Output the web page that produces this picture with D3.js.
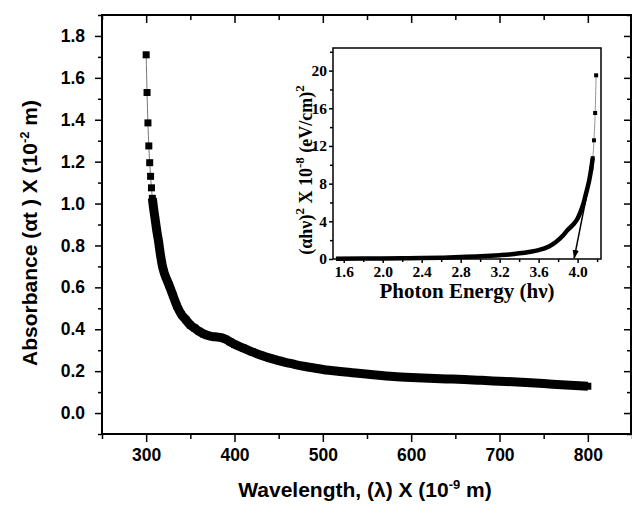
<!DOCTYPE html>
<html>
<head>
<meta charset="utf-8">
<script src="https://cdn.jsdelivr.net/npm/d3@7"></script>
<style>
body { margin: 0; background: #fff; }
svg { display: block; }
.main .tick text { font-family: "Liberation Sans", Arial, sans-serif; font-weight: bold; font-size: 17.5px; }
.inset .tick text { font-family: "Liberation Serif", "Times New Roman", serif; font-weight: bold; font-size: 15.5px; }
.tick line { stroke: #000; stroke-width: 1.5; }
</style>
</head>
<body>
<svg id="chart" width="632" height="505"></svg>
<script>
// Absorbance spectrum (main plot)
const wavelength = [300, 301, 302, 303, 304, 305, 306, 307, 308, 310, 312, 314, 316, 318, 320, 323, 326,
  330, 335, 340, 345, 350, 355, 360, 365, 370, 375, 380, 385, 390, 395, 400, 410, 420, 430, 440, 450,
  460, 470, 480, 490, 500, 520, 540, 560, 580, 600, 620, 640, 660, 680, 700, 720, 740, 760, 780, 800];
const absorbance = [1.71, 1.53, 1.385, 1.275, 1.195, 1.13, 1.075, 1.025, 0.99, 0.93, 0.87, 0.82, 0.76, 0.71, 0.675, 0.64, 0.61,
  0.565, 0.51, 0.47, 0.445, 0.42, 0.405, 0.39, 0.378, 0.37, 0.365, 0.363, 0.36, 0.352, 0.34, 0.328, 0.31, 0.292, 0.276, 0.262, 0.25,
  0.24, 0.23, 0.222, 0.215, 0.208, 0.198, 0.19, 0.182, 0.175, 0.17, 0.166, 0.163, 0.16, 0.156, 0.152, 0.148, 0.143, 0.138, 0.133, 0.128];
const xTicks = [300, 400, 500, 600, 700, 800];
const xMinor = [250, 350, 450, 550, 650, 750, 850];
const yTicks = [0, 0.2, 0.4, 0.6, 0.8, 1.0, 1.2, 1.4, 1.6, 1.8];
const yMinor = [-0.1, 0.1, 0.3, 0.5, 0.7, 0.9, 1.1, 1.3, 1.5, 1.7, 1.9];

// Tauc plot (inset)
const photonEnergy = [1.52, 1.8, 2.0, 2.2, 2.4, 2.6, 2.8, 3.0, 3.2, 3.3, 3.4, 3.5, 3.6, 3.7, 3.75, 3.8, 3.85,
  3.9, 3.95, 4.0, 4.03, 4.06, 4.08, 4.1, 4.12, 4.14, 4.155, 4.168, 4.18, 4.19];
const alphaHv2 = [0.02, 0.04, 0.06, 0.08, 0.1, 0.14, 0.2, 0.28, 0.4, 0.48, 0.6, 0.75, 0.95, 1.3, 1.6, 2.0, 2.5,
  3.1, 3.6, 4.3, 5.0, 5.9, 6.7, 7.5, 8.4, 9.6, 10.7, 12.6, 15.5, 19.5];
const insetXTicks = [1.6, 2.0, 2.4, 2.8, 3.2, 3.6, 4.0];
const insetXMinor = [1.8, 2.2, 2.6, 3.0, 3.4, 3.8, 4.2];
const insetYTicks = [0, 4, 8, 12, 16, 20];
const insetYMinor = [2, 6, 10, 14, 18, 22];
const tangentE = [4.155, 3.965];
const tangentV = [10, 0.1];

const svg = d3.select('#chart');

// ---------- main plot ----------
const x = d3.scaleLinear().domain([250, 850]).range([102, 632]);
const y = d3.scaleLinear().domain([-0.1, 1.9]).range([434, 15]);
const main = svg.append('g').attr('class', 'main');

function addAxis(g, axis, tx, ty) {
  const a = g.append('g').attr('transform', `translate(${tx},${ty})`).call(axis);
  a.select('.domain').remove();
  return a;
}

// bottom (outward) and top (inward)
addAxis(main, d3.axisBottom(x).tickValues(xTicks).tickSize(8).tickPadding(7).tickFormat(d3.format('d')), 0, 434);
addAxis(main, d3.axisBottom(x).tickValues(xMinor).tickSize(5).tickFormat(''), 0, 434);
addAxis(main, d3.axisBottom(x).tickValues(xTicks).tickSize(8).tickFormat(''), 0, 15);
addAxis(main, d3.axisBottom(x).tickValues(xMinor).tickSize(5).tickFormat(''), 0, 15);
// left (outward) and right (inward)
addAxis(main, d3.axisLeft(y).tickValues(yTicks).tickSize(7).tickPadding(10).tickFormat(d3.format('.1f')), 102, 0);
addAxis(main, d3.axisLeft(y).tickValues(yMinor).tickSize(4).tickFormat(''), 102, 0);
addAxis(main, d3.axisLeft(y).tickValues(yTicks).tickSize(7).tickFormat(''), 631, 0);
addAxis(main, d3.axisLeft(y).tickValues(yMinor).tickSize(4).tickFormat(''), 631, 0);

main.append('rect')
  .attr('x', 102).attr('y', 15).attr('width', 529).attr('height', 419)
  .attr('fill', 'none').attr('stroke', '#000').attr('stroke-width', 2);

const pts = wavelength.map((w, i) => [w, absorbance[i]]);
const line = d3.line().x(d => x(d[0])).y(d => y(d[1])).curve(d3.curveMonotoneX);

main.append('path').datum(pts).attr('d', line)
  .attr('fill', 'none').attr('stroke', '#777').attr('stroke-width', 1);
// dense part of the spectrum shows as a solid band of markers
main.append('path').datum(pts.slice(7)).attr('d', line)
  .attr('fill', 'none').attr('stroke', '#000').attr('stroke-width', 9).attr('stroke-linejoin', 'round');
main.selectAll('.mk').data(pts).enter().append('rect')
  .attr('class', 'mk')
  .attr('x', d => x(d[0]) - 3.5).attr('y', d => y(d[1]) - 3.5)
  .attr('width', 7).attr('height', 7).attr('fill', '#000');

main.append('text')
  .attr('x', 365).attr('y', 497)
  .attr('text-anchor', 'middle')
  .style('font-family', '"Liberation Sans", Arial, sans-serif').style('font-weight', 'bold').style('font-size', '21px')
  .call(t => {
    t.append('tspan').text('Wavelength, (λ) X (10');
    t.append('tspan').attr('dy', -8).style('font-size', '13px').text('-9');
    t.append('tspan').attr('dy', 8).text(' m)');
  });

main.append('text')
  .attr('transform', 'translate(37,233) rotate(-90)')
  .attr('text-anchor', 'middle')
  .style('font-family', '"Liberation Sans", Arial, sans-serif').style('font-weight', 'bold').style('font-size', '21px')
  .call(t => {
    t.append('tspan').text('Absorbance  (αt ) X (10');
    t.append('tspan').attr('dy', -8).style('font-size', '13px').text('-2');
    t.append('tspan').attr('dy', 8).text(' m)');
  });

// ---------- inset ----------
const ix = d3.scaleLinear().domain([1.49, 4.24]).range([333, 601]);
const iy = d3.scaleLinear().domain([0, 22.4]).range([259, 48]);
const inset = svg.append('g').attr('class', 'inset');

inset.append('rect')
  .attr('x', 333).attr('y', 48).attr('width', 268).attr('height', 211)
  .attr('fill', '#fff');

addAxis(inset, d3.axisBottom(ix).tickValues(insetXTicks).tickSize(4).tickPadding(3).tickFormat(d3.format('.1f')), 0, 259);
addAxis(inset, d3.axisBottom(ix).tickValues(insetXMinor).tickSize(3).tickFormat(''), 0, 259);
addAxis(inset, d3.axisLeft(iy).tickValues(insetYTicks).tickSize(4).tickPadding(2).tickFormat(d3.format('d')), 333, 0);
addAxis(inset, d3.axisLeft(iy).tickValues(insetYMinor).tickSize(3).tickFormat(''), 333, 0);
inset.selectAll('.tick line').attr('stroke-width', 1.2);

inset.append('rect')
  .attr('x', 333).attr('y', 48).attr('width', 268).attr('height', 211)
  .attr('fill', 'none').attr('stroke', '#000').attr('stroke-width', 1.5);

const ipts = photonEnergy.map((e, i) => [e, alphaHv2[i]]);
const iline = d3.line().x(d => ix(d[0])).y(d => iy(d[1])).curve(d3.curveMonotoneX);

inset.append('path').datum(ipts).attr('d', iline)
  .attr('fill', 'none').attr('stroke', '#777').attr('stroke-width', 0.8);
inset.append('path').datum(ipts.slice(0, 27)).attr('d', iline)
  .attr('fill', 'none').attr('stroke', '#000').attr('stroke-width', 4.5).attr('stroke-linejoin', 'round');
inset.selectAll('.imk').data(ipts.slice(25)).enter().append('rect')
  .attr('class', 'imk')
  .attr('x', d => ix(d[0]) - 2).attr('y', d => iy(d[1]) - 2)
  .attr('width', 4).attr('height', 4).attr('fill', '#000');

// tangent extrapolated to the energy axis
svg.append('defs').append('marker')
  .attr('id', 'arrow').attr('viewBox', '0 0 10 10').attr('refX', 9).attr('refY', 5)
  .attr('markerWidth', 6).attr('markerHeight', 6).attr('orient', 'auto')
  .append('path').attr('d', 'M0,1.5 L10,5 L0,8.5 Z').attr('fill', '#000');
inset.append('line')
  .attr('x1', ix(tangentE[0])).attr('y1', iy(tangentV[0]))
  .attr('x2', ix(tangentE[1])).attr('y2', iy(tangentV[1]))
  .attr('stroke', '#000').attr('stroke-width', 1.5).attr('marker-end', 'url(#arrow)');

inset.append('text')
  .attr('x', 467).attr('y', 298)
  .attr('text-anchor', 'middle')
  .style('font-family', '"Liberation Serif", "Times New Roman", serif').style('font-weight', 'bold').style('font-size', '21px')
  .text('Photon Energy (hν)');

inset.append('text')
  .attr('transform', 'translate(312,170) rotate(-90)')
  .attr('text-anchor', 'middle')
  .style('font-family', '"Liberation Serif", "Times New Roman", serif').style('font-weight', 'bold').style('font-size', '18px')
  .call(t => {
    t.append('tspan').text('(αhν)');
    t.append('tspan').attr('dy', -8).style('font-size', '13px').text('2');
    t.append('tspan').attr('dy', 8).text(' X 10');
    t.append('tspan').attr('dy', -8).style('font-size', '13px').text('-8');
    t.append('tspan').attr('dy', 8).text('  (eV/cm)');
    t.append('tspan').attr('dy', -8).style('font-size', '13px').text('2');
  });
</script>
</body>
</html>
